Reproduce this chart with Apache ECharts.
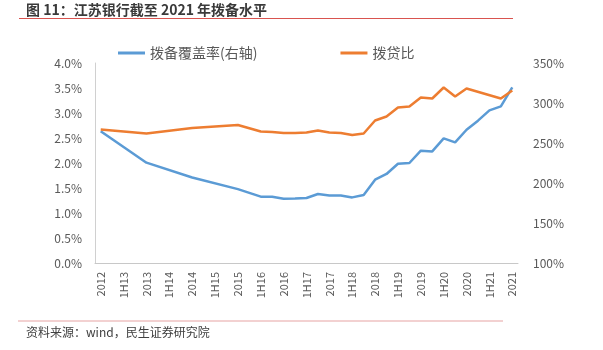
<!DOCTYPE html>
<html lang="zh">

<head>
    <meta charset="UTF-8">
    <title>江苏银行拨备水平</title>
    <script src="https://cdn.jsdelivr.net/npm/echarts@6/dist/echarts.min.js"></script>
    <style>
        html, body {
            margin: 0;
            padding: 0;
            background: #fff;
        }

        #chart {
            width: 603px;
            height: 350px;
        }
    </style>
</head>

<body>
    <div id="chart"></div>
    <script>
        // 季度类目，只显示半年/年度标签
        var quarters = ['2012', '1Q13', '1H13', '3Q13', '2013', '1Q14', '1H14', '3Q14', '2014',
            '1Q15', '1H15', '3Q15', '2015', '1Q16', '1H16', '3Q16', '2016', '1Q17', '1H17', '3Q17',
            '2017', '1Q18', '1H18', '3Q18', '2018', '1Q19', '1H19', '3Q19', '2019', '1Q20', '1H20',
            '3Q20', '2020', '1Q21', '1H21', '3Q21', '2021'];

        // 拨备覆盖率(右轴)，%
        var coverage = [264.8, null, null, null, 225.4, null, null, null, 206.9,
            null, null, null, 192.3, null, 182.9, 182.9, 180.4, 180.6, 181.3, 186.3,
            184.5, 184.5, 182.0, 185.0, 204.1, 211.3, 224.1, 225.0, 240.4, 239.5, 255.8,
            250.8, 266.6, 277.9, 290.8, 295.8, 319.5];

        // 拨贷比(左轴)，%
        var provisionRatio = [2.67, null, null, null, 2.59, null, null, null, 2.70,
            null, null, null, 2.76, null, 2.63, 2.62, 2.60, 2.60, 2.61, 2.65,
            2.61, 2.60, 2.56, 2.59, 2.85, 2.93, 3.11, 3.13, 3.31, 3.29, 3.51,
            3.33, 3.49, null, null, 3.29, 3.45];

        var leftTicks = { min: 0, max: 4, interval: 0.5 };
        var rightTicks = { min: 100, max: 350, interval: 50 };

        var myChart = echarts.init(document.getElementById('chart'));
        var gray = '#595959';
        var font = '"Noto Sans CJK SC", "Liberation Sans", sans-serif';

        myChart.setOption({
            animation: false,
            textStyle: { fontFamily: font },
            title: [{
                text: '图 11：江苏银行截至 2021 年拨备水平',
                left: 21,
                top: -2,
                textStyle: { fontSize: 14, fontWeight: 'bold', color: '#3a3a3a', fontFamily: font }
            }, {
                text: '资料来源：wind，民生证券研究院',
                left: 21,
                top: 321,
                textStyle: { fontSize: 12, fontWeight: 'normal', color: '#404040', fontFamily: font }
            }],
            graphic: [{
                type: 'line',
                shape: { x1: 19, y1: 18.5, x2: 513, y2: 18.5 },
                style: { stroke: '#d9534f', lineWidth: 1 }
            }, {
                type: 'line',
                shape: { x1: 18, y1: 321, x2: 503, y2: 321 },
                style: { stroke: '#e6a3a3', lineWidth: 1 }
            }],
            legend: {
                left: 113,
                top: 41,
                itemGap: 83,
                itemWidth: 27,
                itemHeight: 3,
                icon: 'rect',
                textStyle: { fontSize: 14, color: gray },
                data: ['拨备覆盖率(右轴)', '拨贷比']
            },
            grid: {
                left: 95,
                right: 85,
                top: 63,
                bottom: 87
            },
            xAxis: {
                type: 'category',
                data: quarters,
                boundaryGap: true,
                axisLine: { lineStyle: { color: '#c8c8c8' } },
                axisTick: { interval: 0, length: 5, lineStyle: { color: '#c8c8c8' } },
                axisLabel: {
                    interval: 1,
                    rotate: 90,
                    margin: 9,
                    fontSize: 11,
                    color: gray
                },
                splitLine: { show: false }
            },
            yAxis: [{
                type: 'value',
                min: leftTicks.min,
                max: leftTicks.max,
                interval: leftTicks.interval,
                axisLine: { show: true, lineStyle: { color: '#d0d0d0' } },
                axisTick: { show: false },
                splitLine: { show: false },
                axisLabel: {
                    fontSize: 12,
                    color: gray,
                    margin: 13,
                    formatter: function (v) { return v.toFixed(1) + '%'; }
                }
            }, {
                type: 'value',
                min: rightTicks.min,
                max: rightTicks.max,
                interval: rightTicks.interval,
                axisLine: { show: false },
                axisTick: { show: false },
                splitLine: { show: false },
                axisLabel: {
                    fontSize: 12,
                    color: gray,
                    margin: 15,
                    formatter: '{value}%'
                }
            }],
            series: [{
                name: '拨备覆盖率(右轴)',
                type: 'line',
                yAxisIndex: 1,
                data: coverage,
                connectNulls: true,
                symbol: 'none',
                lineStyle: { width: 2.5, color: '#5b9bd5' },
                itemStyle: { color: '#5b9bd5' }
            }, {
                name: '拨贷比',
                type: 'line',
                yAxisIndex: 0,
                data: provisionRatio,
                connectNulls: true,
                symbol: 'none',
                lineStyle: { width: 2.5, color: '#ed7d31' },
                itemStyle: { color: '#ed7d31' }
            }]
        });
    </script>
</body>

</html>
